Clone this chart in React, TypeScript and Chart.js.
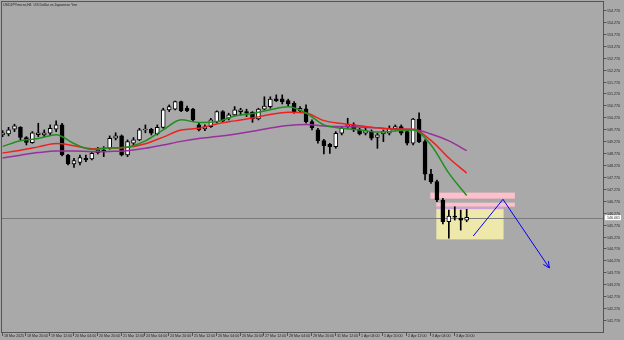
import React, { useEffect, useRef } from "react";
import { Chart, registerables } from "chart.js";

Chart.register(...registerables);

const chartTitle = "USDJPYmicro,H4  US Dollar vs Japanese Yen";

// H4 candles, 18 Mar 04:00 .. 4 Apr 04:00
const opens = [
  149.53, 149.57, 149.77, 149.85, 149.42, 149.21, 149.54, 149.53, 149.6, 149.77,
  149.95, 148.69, 148.31, 148.38, 148.55, 148.52, 148.79, 148.9, 148.97, 149.39,
  149.49, 148.69, 149.18, 149.32, 149.74, 149.77, 149.57, 149.85, 150.58, 150.61,
  150.93, 150.65, 150.61, 149.95, 149.78, 149.88, 150.09, 150.51, 150.23, 150.37,
  150.51, 150.51, 150.48, 150.2, 150.61, 150.72, 151.04, 151.04, 150.97, 150.86,
  150.55, 150.62, 150.09, 149.74, 149.29, 149.14, 149.04, 149.6, 149.88, 149.95,
  149.74, 149.6, 149.67, 149.43, 149.57, 149.6, 149.79, 149.88, 149.67, 149.18,
  150.19, 149.25, 147.89, 147.57, 146.8, 145.89, 146.13, 146.04, 145.96,
];
const highs = [
  149.71, 149.85, 149.98, 149.88, 149.46, 149.67, 150.02, 149.74, 149.95, 150.12,
  150.02, 148.72, 148.55, 148.69, 148.69, 148.83, 149.01, 149.04, 149.49, 149.62,
  149.53, 149.32, 149.42, 149.81, 149.95, 149.81, 149.95, 150.65, 150.79, 150.95,
  150.95, 150.74, 150.65, 150.02, 149.95, 150.23, 150.54, 150.55, 150.44, 150.72,
  150.65, 150.61, 150.51, 150.65, 151.13, 151.13, 151.21, 151.21, 151.03, 150.93,
  150.72, 150.79, 150.16, 149.81, 149.35, 149.18, 149.67, 149.88, 150.23, 150.04,
  149.81, 149.81, 149.74, 149.6, 149.74, 149.91, 149.95, 149.95, 149.74, 150.23,
  150.46, 149.32, 148.09, 147.64, 146.87, 146.38, 146.52, 146.38, 146.41,
];
const lows = [
  149.46, 149.49, 149.67, 149.32, 149.11, 149.18, 149.46, 149.46, 149.53, 149.67,
  148.65, 148.27, 148.17, 148.27, 148.41, 148.48, 148.73, 148.62, 148.93, 149.32,
  148.65, 148.62, 149.11, 149.29, 149.62, 149.53, 149.53, 149.81, 150.51, 150.58,
  150.51, 150.51, 150.09, 149.7, 149.71, 149.85, 150.04, 150.06, 150.16, 150.33,
  150.37, 150.3, 150.06, 150.16, 150.58, 150.65, 150.93, 150.83, 150.74, 150.44,
  150.51, 150.02, 149.74, 149.18, 148.73, 148.76, 148.97, 149.53, 149.81, 149.67,
  149.53, 149.53, 149.32, 148.97, 149.25, 149.53, 149.74, 149.53, 149.11, 149.11,
  149.21, 147.64, 147.5, 146.73, 145.8, 145.2, 145.96, 145.54, 145.89,
];
const closes = [
  149.62, 149.74, 149.91, 149.43, 149.22, 149.62, 149.62, 149.62, 149.81, 149.95,
  148.69, 148.31, 148.45, 148.58, 148.48, 148.76, 148.9, 148.83, 149.39, 149.49,
  148.69, 149.25, 149.32, 149.74, 149.78, 149.6, 149.85, 150.58, 150.72, 150.93,
  150.55, 150.55, 150.16, 149.74, 149.88, 150.16, 150.51, 150.12, 150.37, 150.58,
  150.58, 150.44, 150.2, 150.61, 150.74, 151.03, 150.97, 150.93, 150.83, 150.51,
  150.65, 150.09, 149.83, 149.29, 149.08, 149.04, 149.6, 149.81, 149.95, 149.74,
  149.57, 149.71, 149.39, 149.53, 149.67, 149.81, 149.88, 149.6, 149.18, 150.19,
  149.25, 147.89, 147.57, 146.8, 145.89, 146.13, 146.08, 145.96, 146.08,
];

// moving averages read at every third bar
const maBars = [0, 3, 6, 9, 12, 15, 18, 21, 24, 27, 30, 33, 36, 39, 42, 45, 48, 51, 54, 57, 60, 63, 66, 69, 72, 75, 78];
const maFast = [149.05, 149.29, 149.38, 149.54, 149.17, 148.92, 148.98, 149.02, 149.28, 149.74, 150.17, 150.05, 150.09, 150.32, 150.43, 150.59, 150.71, 150.45, 149.95, 149.81, 149.74, 149.65, 149.7, 149.74, 149.11, 147.93, 146.99];
const maMid = [148.77, 148.89, 149.03, 149.17, 149.08, 148.95, 148.98, 149.01, 149.16, 149.44, 149.74, 149.81, 149.99, 150.12, 150.24, 150.39, 150.48, 150.45, 150.13, 150.01, 149.92, 149.83, 149.78, 149.77, 149.3, 148.56, 147.93];
const maSlow = [148.56, 148.68, 148.79, 148.86, 148.86, 148.83, 148.84, 148.87, 148.97, 149.11, 149.26, 149.38, 149.46, 149.56, 149.68, 149.82, 149.93, 149.97, 149.91, 149.88, 149.86, 149.83, 149.77, 149.76, 149.57, 149.28, 148.87];

const xTickBars = [0, 4, 8, 12, 16, 20, 24, 28, 32, 36, 40, 44, 48, 52, 56, 60, 64, 68, 72, 76];
const xTickLabels = [
  "18 Mar 2025", "18 Mar 20:00", "19 Mar 12:00", "20 Mar 04:00", "20 Mar 20:00",
  "21 Mar 12:00", "24 Mar 04:00", "24 Mar 20:00", "25 Mar 12:00", "26 Mar 04:00",
  "26 Mar 20:00", "27 Mar 12:00", "28 Mar 04:00", "28 Mar 20:00", "31 Mar 12:00",
  "1 Apr 04:00", "1 Apr 20:00", "2 Apr 12:00", "3 Apr 04:00", "3 Apr 20:00",
];
const yTickValues = [154.77, 154.27, 153.77, 153.27, 152.77, 152.27, 151.77, 151.27, 150.77, 150.27, 149.77, 149.27, 148.77, 148.27, 147.77, 147.27, 146.77, 146.27, 145.77, 145.27, 144.77, 144.27, 143.77, 143.27, 142.77, 142.27, 141.77];
const yTickLabels = ["154.770", "154.270", "153.770", "153.270", "152.770", "152.270", "151.770", "151.270", "150.770", "150.270", "149.770", "149.270", "148.770", "148.270", "147.770", "147.270", "146.770", "146.270", "145.770", "145.270", "144.770", "144.270", "143.770", "143.270", "142.770", "142.270", "141.770"];

// drawn zones: pink, pink, overlap band, yellow
const zoneFrom = [71.9, 72.9, 72.9, 72.9];
const zoneTo = [86.1, 86.1, 84.2, 84.2];
const zoneTop = [147.11, 146.69, 146.52, 146.42];
const zoneBottom = [146.86, 146.52, 146.42, 145.15];
const zoneColors = ["#ffc0cb", "#ffc0cb", "#c9a3d6", "#eee8aa"];

const arrowBars = [79.1, 84.1, 91.9];
const arrowPrices = [145.29, 146.83, 143.95];

const bidPrice = 146.06;
const bidLabel = "146.061";

const BG = "#a9a9a9";
const FONT = '3.6px "Liberation Sans"';

const mtPlugin = {
  id: "mtDecor",
  beforeDraw(chart: any) {
    const ctx = chart.ctx;
    ctx.save();
    ctx.fillStyle = BG;
    ctx.fillRect(0, 0, chart.width, chart.height);
    ctx.restore();
  },
  beforeDatasetsDraw(chart: any) {
    const ctx = chart.ctx;
    const xs = chart.scales.x;
    const ys = chart.scales.y;
    const ca = chart.chartArea;
    ctx.save();
    const order = [3, 0, 1, 2];
    for (const i of order) {
      const x0 = xs.getPixelForValue(zoneFrom[i]);
      const x1 = xs.getPixelForValue(zoneTo[i]);
      const y0 = ys.getPixelForValue(zoneTop[i]);
      const y1 = ys.getPixelForValue(zoneBottom[i]);
      ctx.fillStyle = zoneColors[i];
      ctx.fillRect(x0, y0, x1 - x0, y1 - y0);
    }
    const by = Math.round(ys.getPixelForValue(bidPrice)) + 0.5;
    ctx.strokeStyle = "#7a7a7a";
    ctx.lineWidth = 1;
    ctx.beginPath();
    ctx.moveTo(ca.left, by);
    ctx.lineTo(ca.right, by);
    ctx.stroke();
    ctx.restore();
  },
  afterDatasetsDraw(chart: any) {
    const ctx = chart.ctx;
    const xs = chart.scales.x;
    const ys = chart.scales.y;
    const ca = chart.chartArea;
    ctx.save();
    // arrow head
    const n = arrowBars.length;
    const px = xs.getPixelForValue(arrowBars[n - 1]);
    const py = ys.getPixelForValue(arrowPrices[n - 1]);
    const qx = xs.getPixelForValue(arrowBars[n - 2]);
    const qy = ys.getPixelForValue(arrowPrices[n - 2]);
    const ang = Math.atan2(py - qy, px - qx);
    ctx.strokeStyle = "#0000ff";
    ctx.lineWidth = 1;
    ctx.beginPath();
    for (const s of [-0.45, 0.45]) {
      ctx.moveTo(px, py);
      ctx.lineTo(px - 7 * Math.cos(ang + s), py - 7 * Math.sin(ang + s));
    }
    ctx.stroke();

    // frame
    ctx.strokeStyle = "#555555";
    ctx.lineWidth = 1;
    ctx.strokeRect(ca.left - 0.5, ca.top + 0.5, ca.right - ca.left, ca.bottom - ca.top);

    ctx.fillStyle = "#1e1e1e";
    ctx.font = FONT;
    // y ticks
    ctx.textBaseline = "middle";
    ctx.textAlign = "left";
    yTickValues.forEach((v, i) => {
      const y = Math.round(ys.getPixelForValue(v)) + 0.5;
      ctx.beginPath();
      ctx.moveTo(ca.right, y);
      ctx.lineTo(ca.right + 2.5, y);
      ctx.stroke();
      ctx.fillText(yTickLabels[i], ca.right + 3, y);
    });
    // x ticks
    xTickBars.forEach((b, i) => {
      const x = Math.round(xs.getPixelForValue(b)) - 0.5;
      ctx.beginPath();
      ctx.moveTo(x, ca.bottom);
      ctx.lineTo(x, ca.bottom + 4);
      ctx.stroke();
      ctx.fillText(xTickLabels[i], x + 1.5, ca.bottom + 3.5);
    });
    // bid label
    const by = ys.getPixelForValue(bidPrice);
    ctx.fillStyle = "#ffffff";
    ctx.fillRect(ca.right + 1, by - 2.5, 16, 5);
    ctx.fillStyle = "#1e1e1e";
    ctx.fillText(bidLabel, ca.right + 3, by);
    // title
    ctx.fillText(chartTitle, ca.left + 1, ca.top + 3.5);
    ctx.restore();
  },
};

export default function App() {
  const ref = useRef<HTMLCanvasElement | null>(null);
  useEffect(() => {
    if (!ref.current) return;
    const idx = opens.map((_, i) => i);
    const chart = new Chart(ref.current, {
      type: "bar",
      data: {
        datasets: [
          {
            type: "line",
            data: arrowBars.map((b, i) => ({ x: b, y: arrowPrices[i] })),
            borderColor: "#0000ff",
            borderWidth: 1,
            pointRadius: 0,
            tension: 0,
            order: 0,
          } as any,
          {
            type: "line",
            data: maBars.map((b, i) => ({ x: b, y: maFast[i] })),
            borderColor: "#1f8f1f",
            borderWidth: 1.5,
            pointRadius: 0,
            cubicInterpolationMode: "monotone",
            order: 1,
          } as any,
          {
            type: "line",
            data: maBars.map((b, i) => ({ x: b, y: maMid[i] })),
            borderColor: "#f02020",
            borderWidth: 1.5,
            pointRadius: 0,
            cubicInterpolationMode: "monotone",
            order: 1,
          } as any,
          {
            type: "line",
            data: maBars.map((b, i) => ({ x: b, y: maSlow[i] })),
            borderColor: "#9a2f9e",
            borderWidth: 1.5,
            pointRadius: 0,
            cubicInterpolationMode: "monotone",
            order: 1,
          } as any,
          {
            type: "bar",
            data: idx.map((i) => ({ x: i, y: [opens[i], closes[i]] })),
            backgroundColor: idx.map((i) => (closes[i] >= opens[i] ? "#ffffff" : "#000000")),
            borderColor: "#000000",
            borderWidth: 1,
            borderSkipped: false,
            barThickness: 4,
            grouped: false,
            order: 2,
          } as any,
          {
            type: "bar",
            data: idx.map((i) => ({ x: i, y: [lows[i], highs[i]] })),
            backgroundColor: "#000000",
            borderWidth: 0,
            barThickness: 1,
            grouped: false,
            order: 3,
          } as any,
        ],
      },
      options: {
        animation: false,
        responsive: false,
        maintainAspectRatio: false,
        devicePixelRatio: 1,
        layout: { padding: { left: 2, right: 20, top: 1, bottom: 8 } },
        scales: {
          x: { type: "linear", display: false, min: -0.1, max: 101.08, offset: false },
          y: { type: "linear", display: false, min: 141.266, max: 155.147 },
        },
        plugins: { legend: { display: false }, tooltip: { enabled: false } },
      },
      plugins: [mtPlugin],
    });
    return () => chart.destroy();
  }, []);
  return (
    <div style={{ position: "fixed", left: 0, top: 0, width: 624, height: 340, background: BG }}>
      <canvas ref={ref} width={624} height={340} style={{ display: "block" }} />
    </div>
  );
}
